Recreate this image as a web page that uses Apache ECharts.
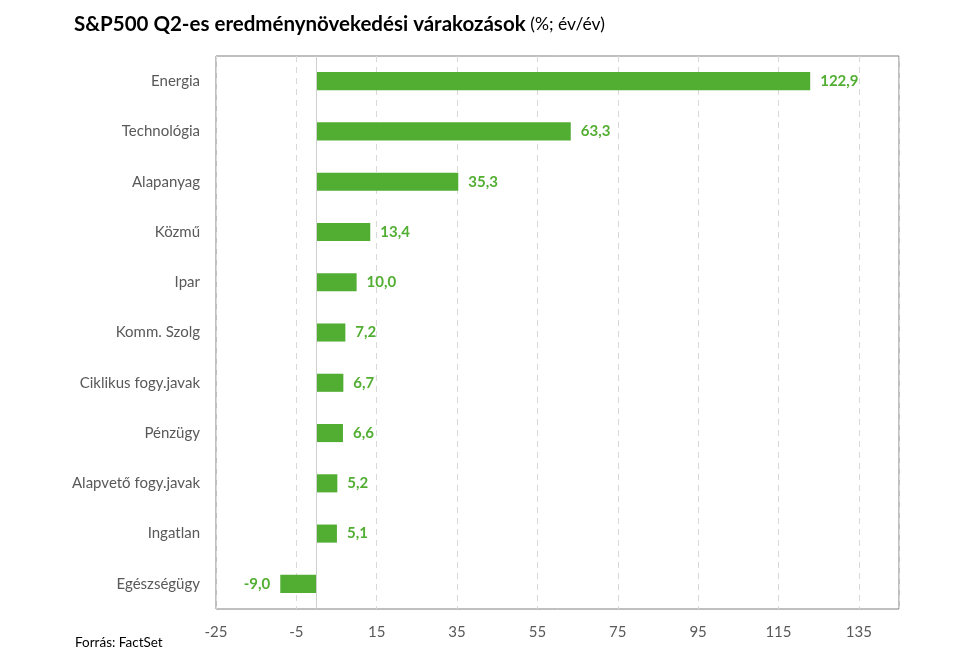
<!DOCTYPE html>
<html>
<head>
<meta charset="utf-8">
<script src="https://cdn.jsdelivr.net/npm/echarts@6/dist/echarts.min.js"></script>
<style>
  html, body { margin: 0; padding: 0; background: #fff; }
  #chart { width: 972px; height: 665px; }
</style>
</head>
<body>
<div id="chart"></div>
<script>
  // Sectors, top to bottom
  const categories = [
    'Energia', 'Technológia', 'Alapanyag', 'Közmű', 'Ipar', 'Komm. Szolg',
    'Ciklikus fogy.javak', 'Pénzügy', 'Alapvető fogy.javak', 'Ingatlan', 'Egészségügy'
  ];
  const growth = [122.9, 63.3, 35.3, 13.4, 10.0, 7.2, 6.7, 6.6, 5.2, 5.1, -9.0];

  // Axis runs -25..145, ticks every 20 starting at -25
  const axisMin = -25;
  const axisMax = 145;
  const tickStep = 20;

  const green = '#52ae32';
  const fontFamily = 'Lato, "Open Sans", sans-serif';
  const fmt = (v) => v.toFixed(1).replace('.', ',');

  const chart = echarts.init(document.getElementById('chart'));

  chart.setOption({
    animation: false,
    textStyle: { fontFamily: fontFamily },
    title: {
      text: '{b|S&P500 Q2-es eredménynövekedési várakozások} {n|(%; év/év)}',
      left: 69,
      top: 9,
      textStyle: {
        fontWeight: 'normal',
        rich: {
          b: { fontFamily: fontFamily, fontWeight: 'bold', fontSize: 20.5, color: '#000' },
          n: { fontFamily: fontFamily, fontWeight: 'normal', fontSize: 17.5, color: '#000' }
        }
      }
    },
    graphic: [{
      type: 'text',
      left: 75,
      top: 636,
      style: { text: 'Forrás: FactSet', font: '13.5px ' + fontFamily, fill: '#000' }
    }],
    grid: {
      left: 216,
      right: 73,
      top: 56,
      bottom: 56,
      show: true,
      borderColor: '#808080',
      borderWidth: 1
    },
    xAxis: [
      {
        // data axis used by the bars
        type: 'value',
        min: axisMin,
        max: axisMax,
        show: false
      },
      {
        // label/grid axis shifted so ticks land on -25, -5, 15, ...
        type: 'value',
        position: 'bottom',
        min: 0,
        max: axisMax - axisMin,
        interval: tickStep,
        axisLine: { show: false },
        axisTick: { show: false },
        axisLabel: {
          color: '#595959',
          fontSize: 15,
          margin: 16,
          showMaxLabel: false,
          formatter: (v) => String(v + axisMin)
        },
        splitLine: {
          show: true,
          lineStyle: { color: '#d9d9d9', type: [6, 5], width: 1 }
        }
      }
    ],
    yAxis: {
      type: 'category',
      data: categories,
      inverse: true,
      axisLine: { show: false },
      axisTick: { show: false },
      splitLine: { show: false },
      axisLabel: { color: '#595959', fontSize: 15, margin: 16 }
    },
    series: [{
      type: 'bar',
      xAxisIndex: 0,
      // negative bars get their label on the left
      data: growth.map((v) => v < 0
        ? { value: v, label: { position: 'left' } }
        : v),
      barWidth: '36%',
      itemStyle: { color: green },
      label: {
        show: true,
        position: 'right',
        distance: 10,
        color: green,
        fontWeight: 'bold',
        fontSize: 15,
        formatter: (p) => fmt(p.value)
      },
      markLine: {
        silent: true,
        symbol: 'none',
        label: { show: false },
        lineStyle: { color: '#d0d0d0', type: 'solid', width: 1 },
        data: [{ xAxis: 0 }]
      }
    }]
  });
</script>
</body>
</html>
